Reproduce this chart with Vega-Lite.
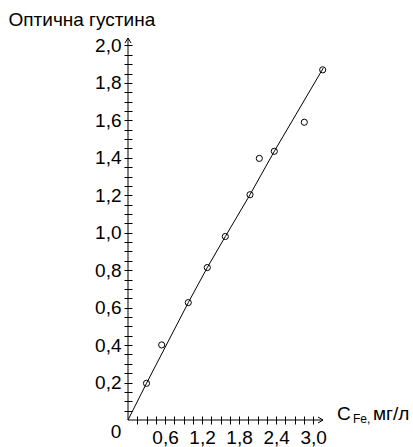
{
  "$schema": "https://vega.github.io/schema/vega-lite/v6.json",
  "width": 195,
  "height": 382,
  "autosize": {"type": "none"},
  "padding": {"left": 128, "top": 38, "right": 90, "bottom": 27},
  "background": "white",
  "config": {"view": {"stroke": null}, "font": "Liberation Sans"},
  "datasets": {
    "points": [
      {"c": 0.30, "d": 0.196},
      {"c": 0.546, "d": 0.401},
      {"c": 0.977, "d": 0.627},
      {"c": 1.285, "d": 0.814},
      {"c": 1.577, "d": 0.980},
      {"c": 1.977, "d": 1.203},
      {"c": 2.128, "d": 1.397},
      {"c": 2.371, "d": 1.435},
      {"c": 2.857, "d": 1.590},
      {"c": 3.155, "d": 1.870}
    ],
    "fit": [
      {"c": 0, "d": 0},
      {"c": 0.30, "d": 0.196},
      {"c": 0.977, "d": 0.627},
      {"c": 1.285, "d": 0.814},
      {"c": 1.577, "d": 0.980},
      {"c": 1.977, "d": 1.203},
      {"c": 2.371, "d": 1.435},
      {"c": 3.165, "d": 1.880}
    ],
    "one": [{}]
  },
  "encoding": {
    "x": {
      "type": "quantitative",
      "scale": {"domain": [0, 3.16], "nice": false, "zero": true},
      "axis": {
        "title": null,
        "values": [0.15, 0.3, 0.45, 0.6, 0.75, 0.9, 1.05, 1.2, 1.35, 1.5, 1.65, 1.8, 1.95, 2.1, 2.25, 2.4, 2.55, 2.7, 2.85, 3.0],
        "tickCount": 200,
        "labelExpr": "round(datum.value * 100) % 60 == 0 ? replace(format(datum.value, '.1f'), '.', ',') : ''",
        "offset": -4,
        "tickSize": 8,
        "tickColor": "black",
        "domain": false,
        "grid": false,
        "labelFontSize": 19,
        "labelColor": "black",
        "labelPadding": 4,
        "labelAngle": 0
      }
    },
    "y": {
      "type": "quantitative",
      "scale": {"domain": [0, 2.04], "nice": false, "zero": true},
      "axis": {
        "title": "Оптична густина",
        "titleAngle": 0,
        "titleAlign": "left",
        "titleBaseline": "alphabetic",
        "titleX": -124,
        "titleY": -13,
        "titleFontSize": 19,
        "titleFontWeight": "normal",
        "titleColor": "black",
        "values": [0.05, 0.1, 0.15, 0.2, 0.25, 0.3, 0.35, 0.4, 0.45, 0.5, 0.55, 0.6, 0.65, 0.7, 0.75, 0.8, 0.85, 0.9, 0.95, 1.0, 1.05, 1.1, 1.15, 1.2, 1.25, 1.3, 1.35, 1.4, 1.45, 1.5, 1.55, 1.6, 1.65, 1.7, 1.75, 1.8, 1.85, 1.9, 1.95, 2.0],
        "tickCount": 200,
        "labelExpr": "round(datum.value * 100) % 20 == 0 ? replace(format(datum.value, '.1f'), '.', ',') : ''",
        "offset": -4,
        "tickSize": 8,
        "tickColor": "black",
        "domain": false,
        "grid": false,
        "labelFontSize": 19,
        "labelColor": "black",
        "labelPadding": 3
      }
    }
  },
  "layer": [
    {
      "data": {"name": "fit"},
      "mark": {"type": "line", "color": "black", "strokeWidth": 1},
      "encoding": {
        "x": {"field": "c", "type": "quantitative"},
        "y": {"field": "d", "type": "quantitative"}
      }
    },
    {
      "data": {"name": "points"},
      "mark": {"type": "point", "shape": "circle", "filled": false, "color": "black", "strokeWidth": 1, "size": 38, "opacity": 1},
      "encoding": {
        "x": {"field": "c", "type": "quantitative"},
        "y": {"field": "d", "type": "quantitative"}
      }
    },
    {
      "data": {"name": "one"},
      "mark": {"type": "rule", "color": "black", "strokeWidth": 1},
      "encoding": {
        "x": {"datum": 0, "type": "quantitative"},
        "x2": {"datum": 3.16},
        "y": {"datum": 0, "type": "quantitative"}
      }
    },
    {
      "data": {"name": "one"},
      "mark": {"type": "rule", "color": "black", "strokeWidth": 1},
      "encoding": {
        "x": {"datum": 0, "type": "quantitative"},
        "y": {"datum": 0, "type": "quantitative"},
        "y2": {"datum": 2.04}
      }
    },
    {
      "data": {"name": "one"},
      "mark": {"type": "point", "shape": "M-1,-0.6L0,0L-1,0.6", "filled": false, "color": "black", "strokeWidth": 1, "size": 100, "opacity": 1},
      "encoding": {
        "x": {"datum": 3.16, "type": "quantitative"},
        "y": {"datum": 0, "type": "quantitative"}
      }
    },
    {
      "data": {"name": "one"},
      "mark": {"type": "point", "shape": "M-0.6,1L0,0L0.6,1", "filled": false, "color": "black", "strokeWidth": 1, "size": 100, "opacity": 1},
      "encoding": {
        "x": {"datum": 0, "type": "quantitative"},
        "y": {"datum": 2.04, "type": "quantitative"}
      }
    },
    {
      "data": {"name": "one"},
      "mark": {"type": "text", "text": "0", "fontSize": 19, "color": "black", "align": "center", "baseline": "middle", "dx": -12, "dy": 12},
      "encoding": {
        "x": {"datum": 0, "type": "quantitative"},
        "y": {"datum": 0, "type": "quantitative"}
      }
    },
    {
      "data": {"name": "one"},
      "mark": {"type": "text", "text": "C", "fontSize": 19, "color": "black", "align": "left", "baseline": "alphabetic", "dx": 14, "dy": 0},
      "encoding": {
        "x": {"datum": 3.16, "type": "quantitative"},
        "y": {"datum": 0, "type": "quantitative"}
      }
    },
    {
      "data": {"name": "one"},
      "mark": {"type": "text", "text": "Fe,", "fontSize": 12, "color": "black", "align": "left", "baseline": "alphabetic", "dx": 30, "dy": 3},
      "encoding": {
        "x": {"datum": 3.16, "type": "quantitative"},
        "y": {"datum": 0, "type": "quantitative"}
      }
    },
    {
      "data": {"name": "one"},
      "mark": {"type": "text", "text": "мг/л", "fontSize": 19, "color": "black", "align": "left", "baseline": "alphabetic", "dx": 50, "dy": 0},
      "encoding": {
        "x": {"datum": 3.16, "type": "quantitative"},
        "y": {"datum": 0, "type": "quantitative"}
      }
    }
  ]
}
